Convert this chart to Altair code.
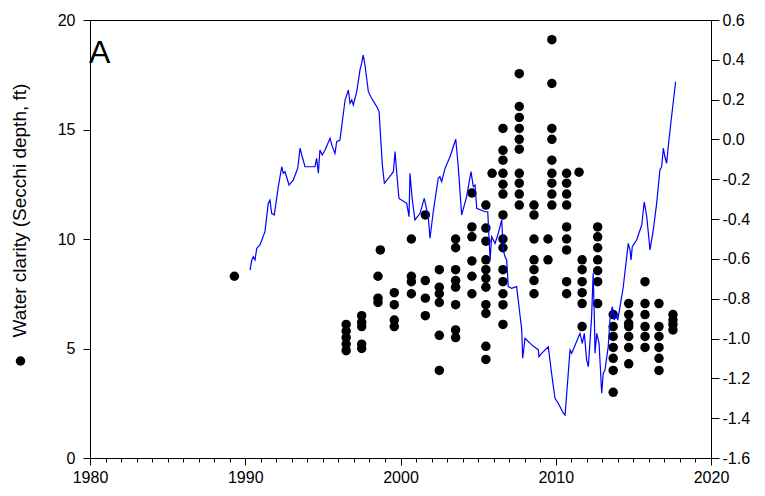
import altair as alt
import pandas as pd

# ---- blue line (right axis index) ----
line_year = [1990.31, 1990.42, 1990.52, 1990.63, 1990.74, 1990.95, 1991.27, 1991.48, 1991.59, 1991.70,
             1991.87, 1992.13, 1992.35, 1992.45, 1992.56, 1992.82, 1993.09, 1993.38, 1993.53, 1993.67,
             1993.85, 1994.49, 1994.60, 1994.71, 1994.81, 1994.96, 1995.14, 1995.46, 1995.61, 1995.78,
             1995.89, 1996.10, 1996.43, 1996.64, 1996.75, 1996.86, 1996.96, 1997.18, 1997.39, 1997.50,
             1997.60, 1997.71, 1997.93, 1998.14, 1998.47, 1998.62, 1998.68, 1998.83, 1998.96, 1999.39,
             1999.54, 1999.65, 1999.76, 1999.90, 2000.40, 2000.55, 2000.61, 2000.76, 2000.93, 2001.26,
             2001.53, 2001.69, 2001.79, 2001.90, 2002.11, 2002.43, 2002.54, 2002.65, 2002.87, 2003.19,
             2003.56, 2003.72, 2003.94, 2004.26, 2004.54, 2004.69, 2004.80, 2004.91, 2005.44, 2005.62,
             2005.77, 2005.87, 2006.09, 2006.30, 2006.52, 2006.62, 2006.73, 2006.84, 2006.94, 2007.16,
             2007.48, 2007.81, 2007.87, 2008.02, 2008.45, 2008.88, 2008.92, 2009.09, 2009.52, 2009.73,
             2009.95, 2010.16, 2010.49, 2010.60, 2010.92, 2011.03, 2011.56, 2011.71, 2011.84, 2011.99,
             2012.10, 2012.31, 2012.41, 2012.48, 2012.53, 2012.64, 2012.79, 2012.96, 2013.06, 2013.17,
             2013.38, 2013.49, 2013.64, 2013.77, 2013.86, 2013.99, 2014.14, 2014.35, 2014.57, 2014.67,
             2014.78, 2014.85, 2014.93, 2015.21, 2015.54, 2015.70, 2015.86, 2016.01, 2016.07, 2016.28,
             2016.50, 2016.71, 2016.82, 2016.93, 2017.03, 2017.14, 2017.29, 2017.46, 2017.72]
line_index = [-0.656, -0.605, -0.589, -0.605, -0.547, -0.530, -0.463, -0.321, -0.304, -0.371,
              -0.379, -0.237, -0.137, -0.170, -0.162, -0.229, -0.204, -0.145, -0.044, -0.087,
              -0.137, -0.137, -0.095, -0.170, -0.053, -0.078, -0.053, 0.006, -0.036, -0.070,
              -0.011, -0.003, 0.198, 0.248, 0.182, 0.198, 0.173, 0.240, 0.349, 0.383,
              0.424, 0.374, 0.240, 0.207, 0.165, 0.140, 0.064, -0.128, -0.220, -0.178,
              -0.162, -0.061, -0.170, -0.296, -0.321, -0.388, -0.170, -0.304, -0.404, -0.371,
              -0.296, -0.354, -0.388, -0.496, -0.363, -0.195, -0.187, -0.212, -0.145, -0.087,
              0.001, -0.137, -0.379, -0.287, -0.162, -0.237, -0.229, -0.346, -0.363, -0.363,
              -0.605, -0.488, -0.522, -0.471, -0.404, -0.555, -0.589, -0.605, -0.739, -0.748,
              -0.739, -0.957, -1.099, -0.999, -1.032, -1.057, -1.091, -1.074, -1.041, -1.174,
              -1.300, -1.325, -1.375, -1.384, -1.057, -1.074, -0.974, -1.024, -0.974, -1.108,
              -1.141, -0.890, -0.672, -0.873, -1.074, -0.974, -1.024, -1.275, -1.174, -1.158,
              -1.041, -0.907, -0.840, -0.907, -0.873, -0.907, -0.840, -0.740, -0.589, -0.522,
              -0.555, -0.605, -0.539, -0.505, -0.430, -0.313, -0.388, -0.505, -0.555, -0.455,
              -0.321, -0.153, -0.137, -0.044, -0.087, -0.120, -0.003, 0.114, 0.290]

# ---- black dots (left axis, Secchi depth ft) ----
dot_year = (
    [1989.3]
    + [1996.5] * 5
    + [1997.5] * 5
    + [1998.55] * 3 + [1998.7]
    + [1999.6] * 4
    + [2000.7] * 4
    + [2001.6] * 4
    + [2002.5] * 6
    + [2003.55] * 8
    + [2004.6] * 6
    + [2005.5] * 11 + [2005.9]
    + [2006.6] * 14
    + [2007.65] * 10
    + [2008.6] * 7
    + [2009.5] * 2
    + [2009.75] * 9
    + [2010.7] * 9
    + [2011.5] + [2011.7] * 6
    + [2012.7] * 7
    + [2013.7] * 7
    + [2014.7] * 7
    + [2015.75] * 6
    + [2016.65] * 6
    + [2017.55] * 4
)
dot_depth = (
    [8.3]
    + [6.1, 5.8, 5.5, 5.2, 4.9]
    + [6.5, 6.2, 6.0, 5.2, 5.0]
    + [8.3, 7.3, 7.1] + [9.5]
    + [7.55, 7.0, 6.3, 6.0]
    + [10.0, 8.3, 8.05, 7.5]
    + [11.1, 8.1, 7.3, 6.5]
    + [8.6, 7.8, 7.5, 7.1, 5.6, 4.0]
    + [10.0, 9.6, 8.6, 8.1, 7.8, 7.0, 5.85, 5.5]
    + [12.1, 10.55, 10.1, 9.0, 8.3, 7.5]
    + [11.55, 10.5, 9.9, 9.05, 8.6, 8.2, 7.8, 7.0, 6.6, 5.1, 4.5] + [13.0]
    + [15.05, 14.05, 13.6, 13.0, 12.5, 12.05, 11.1, 10.0, 9.6, 8.6, 8.05, 7.5, 7.0, 6.1]
    + [17.55, 16.05, 15.55, 15.05, 14.55, 14.1, 13.0, 12.55, 12.05, 11.55]
    + [11.55, 11.1, 10.0, 9.05, 8.6, 8.1, 7.5]
    + [10.0, 9.05]
    + [19.1, 17.1, 15.05, 14.55, 13.6, 13.0, 12.55, 12.05, 11.55]
    + [13.0, 12.55, 12.05, 11.55, 10.55, 10.0, 9.5, 8.05, 7.5]
    + [13.05] + [9.05, 8.6, 8.05, 7.55, 7.05, 6.0]
    + [10.55, 10.1, 9.6, 9.05, 8.55, 8.05, 7.05]
    + [6.55, 6.0, 5.55, 5.05, 4.55, 4.0, 3.0]
    + [7.05, 6.55, 6.15, 6.0, 5.55, 5.05, 4.3]
    + [8.05, 7.05, 6.55, 6.0, 5.55, 5.05]
    + [7.05, 6.0, 5.55, 5.05, 4.55, 4.0]
    + [6.55, 6.3, 6.1, 5.85]
)

x_ticks = list(range(1980, 2021))
left_ticks = [0, 5, 10, 15, 20]
right_ticks = [-1.6, -1.4, -1.2, -1.0, -0.8, -0.6, -0.4, -0.2, 0.0, 0.2, 0.4, 0.6]

FONT = "Liberation Sans"

dot_df = pd.DataFrame({"year": dot_year, "depth": dot_depth})
line_df = pd.DataFrame({"year": line_year, "index": line_index})

x_axis = alt.Axis(
    values=x_ticks,
    labelExpr="datum.value % 10 === 0 ? format(datum.value, 'd') : ''",
    tickSize={"condition": {"test": "datum.value % 10 === 0", "value": 7}, "value": 4},
    labelOverlap=False,
    labelFlush=False,
    labelPadding=4,
    title=None,
)
x_enc = alt.X("year:Q", scale=alt.Scale(domain=[1980, 2020], nice=False, zero=False), axis=x_axis)

dots = alt.Chart(dot_df).mark_circle(size=90, color="black", opacity=1).encode(
    x=x_enc,
    y=alt.Y(
        "depth:Q",
        scale=alt.Scale(domain=[0, 20], nice=False, zero=False),
        axis=alt.Axis(
            values=left_ticks,
            tickSize=7,
            labelPadding=8,
            title="Water clarity (Secchi depth, ft)",
            titleFontSize=19,
            titleFontWeight="normal",
            titleX=-71,
            titleY=190,
            titleAlign="center",
            titleBaseline="middle",
            titleAngle=270,
        ),
    ),
)

line = alt.Chart(line_df).mark_line(color="#0000ff", strokeWidth=1.2).encode(
    x=x_enc,
    y=alt.Y(
        "index:Q",
        scale=alt.Scale(domain=[-1.6, 0.6], nice=False, zero=False),
        axis=alt.Axis(
            orient="right",
            values=right_ticks,
            labelExpr="replace(format(datum.value, '.1f'), '\u2212', '-')",
            tickSize=8,
            labelPadding=3,
            title=None,
        ),
    ),
)

panel_label = alt.Chart(pd.DataFrame({"t": ["A"]})).mark_text(
    font=FONT, fontSize=32, align="left", baseline="alphabetic", color="black"
).encode(text="t:N", x=alt.value(-1), y=alt.value(43))

legend_dot = alt.Chart(pd.DataFrame({"t": ["dot"]})).mark_circle(
    size=90, color="black", opacity=1
).encode(x=alt.value(-69.5), y=alt.value(341))

chart = (
    alt.layer(dots, line, panel_label, legend_dot)
    .resolve_scale(y="independent")
    .properties(
        width=621,
        height=438,
        autosize=alt.AutoSizeParams(type="none"),
        padding={"left": 82, "top": 12, "right": 46, "bottom": 30},
    )
    .configure_view(stroke="black", strokeWidth=1)
    .configure_axis(
        labelFont=FONT,
        labelFontSize=16,
        labelColor="black",
        titleFont=FONT,
        titleColor="black",
        domainColor="black",
        tickColor="black",
        domainWidth=1,
        tickWidth=1,
        grid=False,
    )
)

chart.save("out.html", embed_options={"renderer": "svg", "actions": False})
